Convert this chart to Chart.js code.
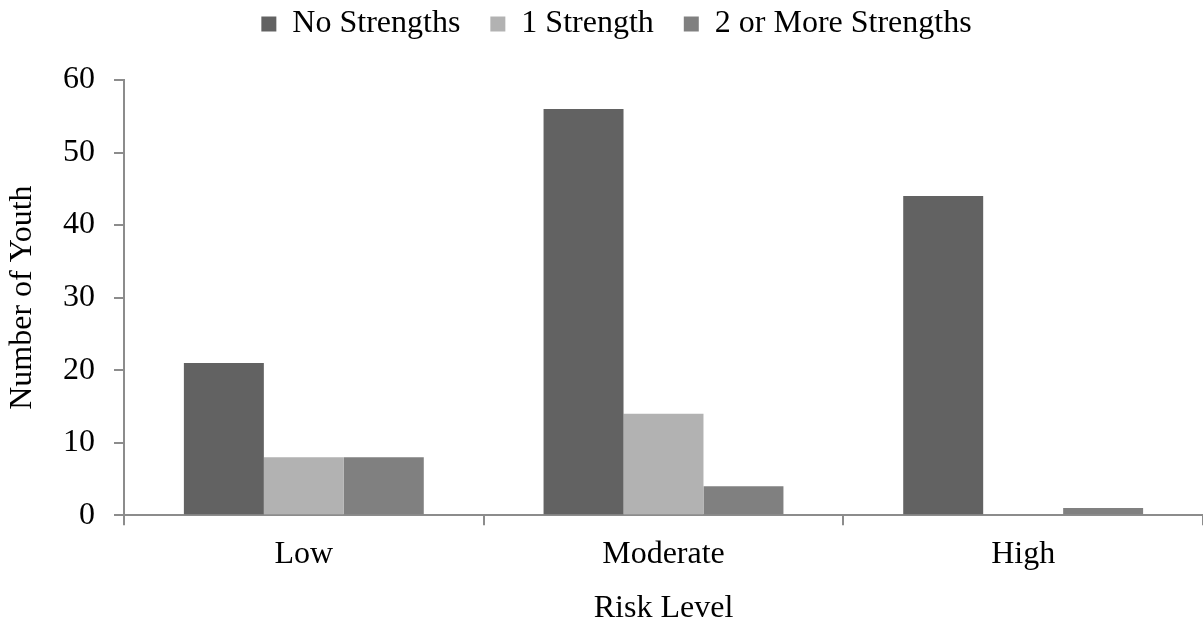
<!DOCTYPE html>
<html>
<head>
<meta charset="utf-8">
<script src="https://cdn.jsdelivr.net/npm/chart.js@4"></script>
<style>
  html, body { margin: 0; padding: 0; background: #fff; }
  #wrap { width: 1203px; height: 624px; }
</style>
</head>
<body>
<div id="wrap"><canvas id="riskChart"></canvas></div>
<script>
const riskLevels = ['Low', 'Moderate', 'High'];
const noStrengths = [21, 56, 44];
const oneStrength = [8, 14, 0];
const twoPlusStrengths = [8, 4, 1];

const AXIS_GREY = '#8c8c8c';
const FONT = "'Liberation Serif', 'Times New Roman', serif";

Chart.defaults.font.family = FONT;
Chart.defaults.color = '#000';

function renderRiskChart() {
  const ctx = document.getElementById('riskChart').getContext('2d');
  new Chart(ctx, {
    type: 'bar',
    data: {
      labels: riskLevels,
      datasets: [
        { label: 'No Strengths', data: noStrengths, backgroundColor: '#626262' },
        { label: '1 Strength', data: oneStrength, backgroundColor: '#b2b2b2' },
        { label: '2 or More Strengths', data: twoPlusStrengths, backgroundColor: '#808080' }
      ]
    },
    options: {
      responsive: true,
      maintainAspectRatio: false,
      animation: false,
      categoryPercentage: 0.667,
      barPercentage: 1.0,
      // negative top pulls the legend up, the empty subtitle below it adds the gap
      layout: { padding: { top: -22, right: -2, left: 28, bottom: 0 } },
      plugins: {
        tooltip: { enabled: false },
        legend: {
          position: 'top',
          labels: {
            boxWidth: 15,
            boxHeight: 15,
            padding: 30,
            font: { size: 32 },
            color: '#000'
          }
        },
        subtitle: {
          display: true,
          text: '',
          weight: 500,
          font: { size: 10 },
          padding: { top: 0, bottom: 18 }
        }
      },
      scales: {
        x: {
          grid: {
            offset: true,
            drawOnChartArea: false,
            drawTicks: true,
            tickLength: 10,
            color: AXIS_GREY,
            lineWidth: 2
          },
          border: { color: AXIS_GREY, width: 2 },
          ticks: { font: { size: 32 }, color: '#000', padding: 10 },
          title: { display: true, text: 'Risk Level', font: { size: 32 }, color: '#000', padding: { top: 6, bottom: -4 } }
        },
        y: {
          min: 0,
          max: 60,
          grid: {
            drawOnChartArea: false,
            drawTicks: true,
            tickLength: 10,
            color: AXIS_GREY,
            lineWidth: 2
          },
          border: { color: AXIS_GREY, width: 2 },
          ticks: { stepSize: 10, font: { size: 32 }, color: '#000', padding: 19 },
          title: { display: true, text: 'Number of Youth', font: { size: 32 }, color: '#000', padding: { top: -25, bottom: 2.6 } }
        }
      }
    }
  });
}

renderRiskChart();
</script>
</body>
</html>
